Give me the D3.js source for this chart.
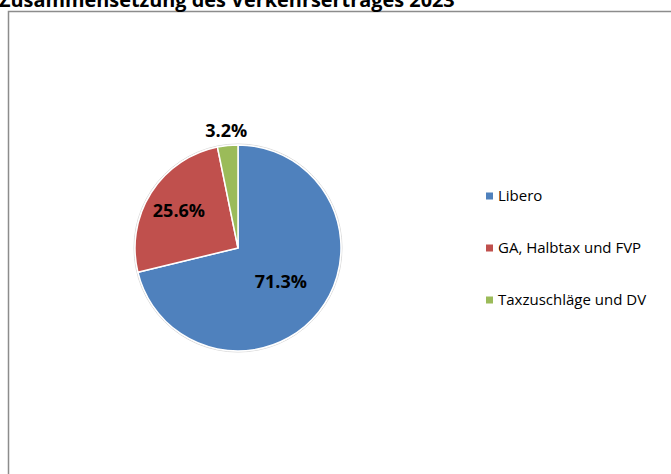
<!DOCTYPE html>
<html><head><meta charset="utf-8">
<script src="https://cdn.jsdelivr.net/npm/d3@7"></script>
<style>html,body{margin:0;padding:0;background:#fff;overflow:hidden}</style>
</head><body>
<svg id="c" width="671" height="474"></svg>
<script>
const title = "Zusammensetzung des Verkehrsertrages 2023";
const categories = ["Libero", "GA, Halbtax und FVP", "Taxzuschläge und DV"];
const values = [71.3, 25.6, 3.2];
const colors = ["#4F81BD", "#C0504D", "#9BBB59"];
const labelRadius = [0.53, 0.68, 1.14];

const svg = d3.select("#c");
// chart border
svg.append("rect").attr("x", 8.5).attr("y", 11.5).attr("width", 700).attr("height", 500)
  .attr("fill", "#fff").attr("stroke", "#8c8c8c").attr("stroke-width", 1.5);

// title
const t = svg.append("text").attr("x", -1).attr("y", 6.5)
  .attr("font-family", "Open Sans, sans-serif").attr("font-weight", "bold")
  .attr("font-size", 20).attr("fill", "#000").text(title);
const w = t.node().getComputedTextLength();
t.attr("font-size", 20 * 456 / w);

const cx = 238, cy = 248, R = 103;
const pie = d3.pie().sort(null).value(d => d)(values);
const arc = d3.arc().innerRadius(0).outerRadius(R);
const g = svg.append("g").attr("transform", `translate(${cx},${cy})`);
g.append("circle").attr("r", R + 1).attr("fill", "none").attr("stroke", "#d9d9d9").attr("stroke-width", 1);
g.selectAll("path").data(pie).join("path")
  .attr("d", arc).attr("fill", (d, i) => colors[i])
  .attr("stroke", "#fff").attr("stroke-width", 1.5).attr("stroke-linejoin", "round");

g.selectAll("text.lbl").data(pie).join("text").attr("class", "lbl")
  .attr("transform", (d, i) => {
    const a = (d.startAngle + d.endAngle) / 2, r = R * labelRadius[i];
    return `translate(${r * Math.sin(a)},${-r * Math.cos(a)})`;
  })
  .attr("text-anchor", "middle").attr("dy", "0.35em")
  .attr("font-family", "Open Sans, sans-serif").attr("font-weight", "bold").attr("font-size", 18)
  .attr("fill", "#000").text(d => d.data.toFixed(1) + "%");

// legend
const leg = svg.append("g");
const ly = d3.scalePoint().domain(categories).range([196, 300]);
categories.forEach((c, i) => {
  leg.append("rect").attr("x", 486).attr("y", ly(c) - 3.5).attr("width", 7).attr("height", 7).attr("fill", colors[i]);
  leg.append("text").attr("x", 498).attr("y", ly(c)).attr("dy", "0.35em")
    .attr("font-family", "Open Sans, sans-serif").attr("font-size", 15).attr("fill", "#000").text(c);
});
</script>
</body></html>
